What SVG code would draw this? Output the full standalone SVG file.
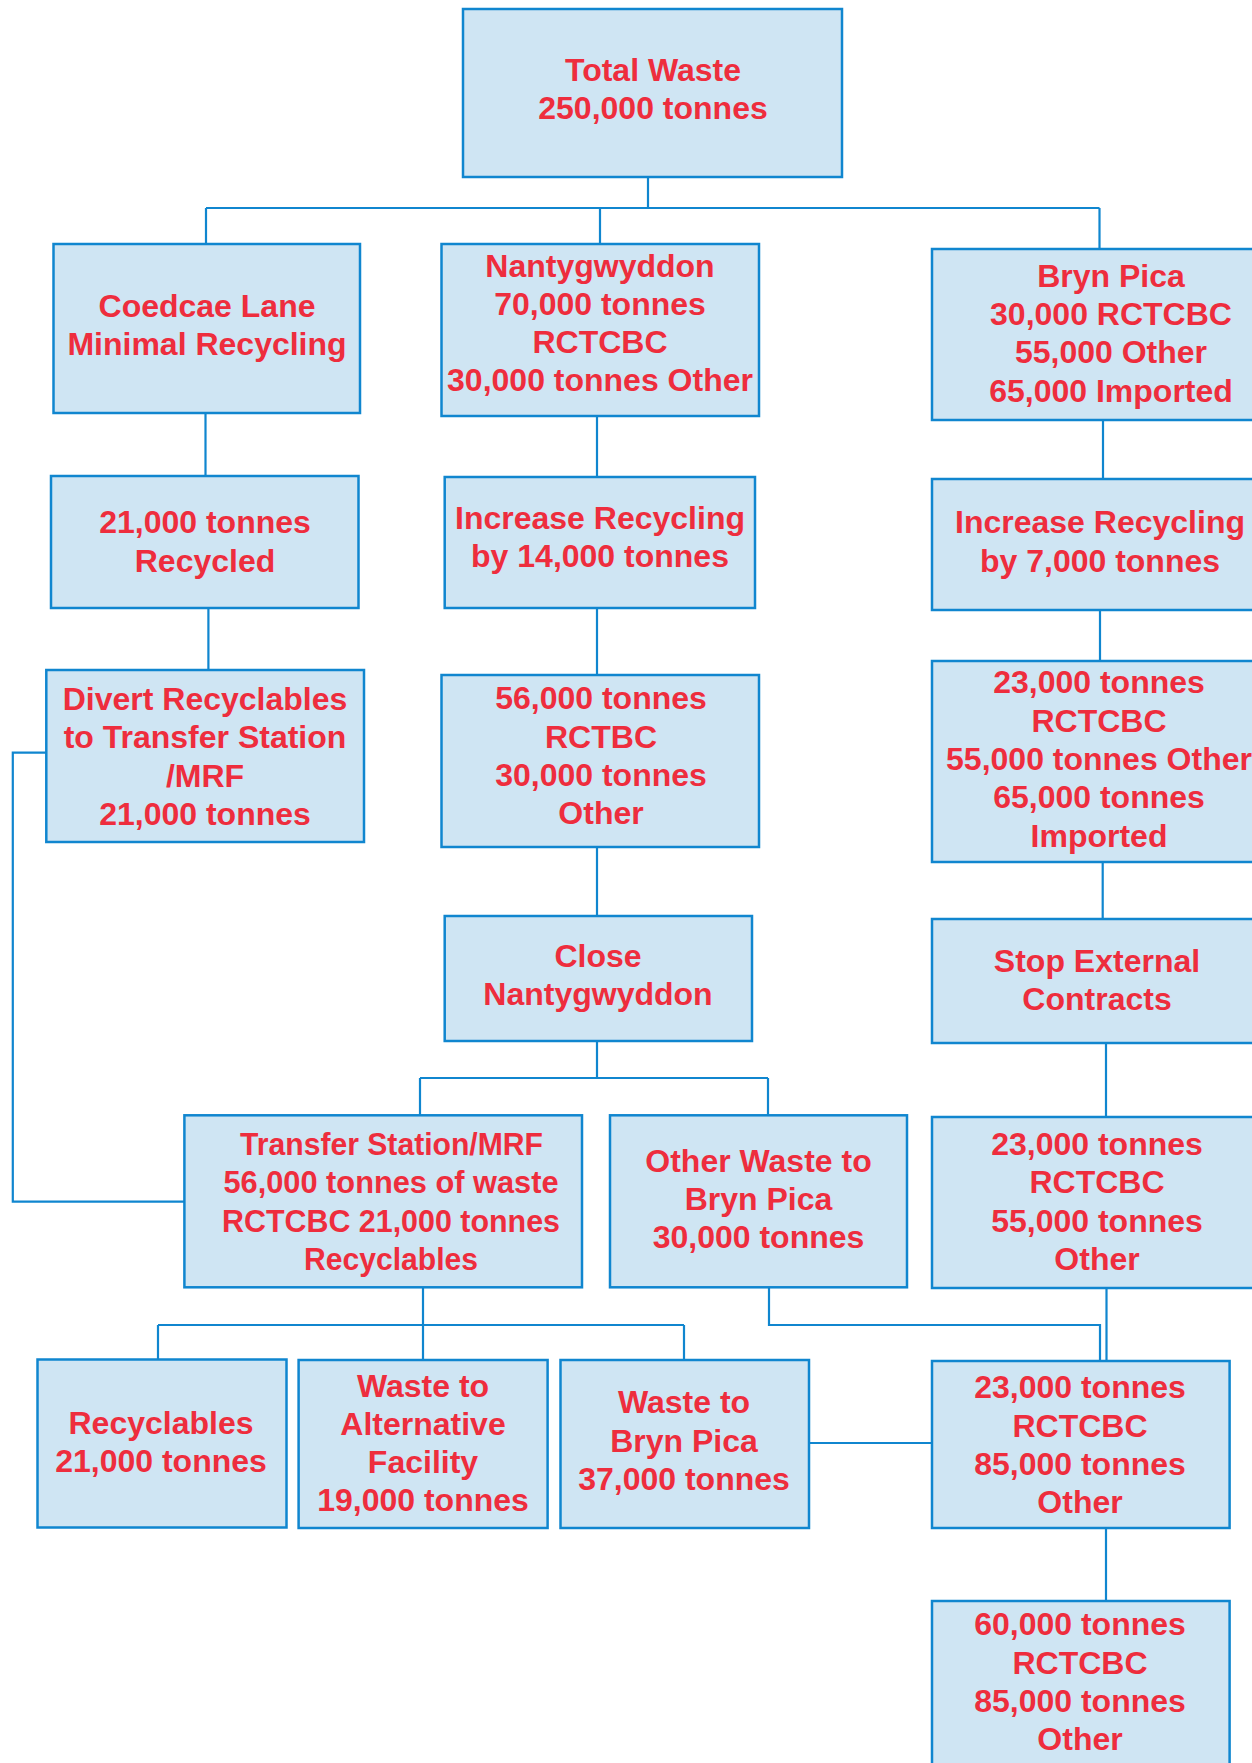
<svg xmlns="http://www.w3.org/2000/svg" width="1252" height="1763" viewBox="0 0 1252 1763">
<style>
.box{fill:#cfe5f3;stroke:#1086cf;stroke-width:2.5}
.t{font-family:"Liberation Sans",Arial,sans-serif;font-weight:bold;font-size:32px;fill:#ee2d3d;text-anchor:middle}
.c{fill:none;stroke:#1086cf;stroke-width:2.2}
</style>
<rect width="1252" height="1763" fill="#ffffff"/>
<g id="connectors">
<path class="c" d="M648,177 V208 M206,208 H1099.5 M206,208 V244 M600,208 V244 M1099.5,208 V249"/>
<path class="c" d="M205.5,413 V476 M208.4,608 V670"/>
<path class="c" d="M46,752.7 H12.8 V1201.7 H184"/>
<path class="c" d="M597,416 V477 M597,608 V675 M597,847 V916"/>
<path class="c" d="M597,1041 V1078 M420,1078 H768 M420,1078 V1115 M768,1078 V1115"/>
<path class="c" d="M1103,420 V479 M1100,610 V661 M1102.7,862 V919 M1106,1043 V1117 M1106.5,1288 V1361"/>
<path class="c" d="M423,1287 V1325 M158,1325 H684 M158,1325 V1360 M423,1325 V1360 M684,1325 V1360"/>
<path class="c" d="M769,1287 V1325 H1100 V1361"/>
<path class="c" d="M809,1443 H932"/>
<path class="c" d="M1106,1528 V1601"/>
</g>
<g id="total-waste">
<rect class="box" x="463" y="9" width="379" height="168"/>
<text class="t"><tspan x="653" y="81">Total Waste</tspan><tspan x="653" y="119">250,000 tonnes</tspan></text>
</g>
<g id="coedcae">
<rect class="box" x="53.5" y="244" width="306.5" height="169"/>
<text class="t"><tspan x="207" y="317">Coedcae Lane</tspan><tspan x="207" y="355">Minimal Recycling</tspan></text>
</g>
<g id="nantygwyddon">
<rect class="box" x="441.5" y="244" width="317.5" height="172"/>
<text class="t"><tspan x="600" y="277">Nantygwyddon</tspan><tspan x="600" y="315">70,000 tonnes</tspan><tspan x="600" y="353">RCTCBC</tspan><tspan x="600" y="391">30,000 tonnes Other</tspan></text>
</g>
<g id="bryn-pica">
<rect class="box" x="932" y="249" width="358" height="171"/>
<text class="t"><tspan x="1111" y="287">Bryn Pica</tspan><tspan x="1111" y="325">30,000 RCTCBC</tspan><tspan x="1111" y="363">55,000 Other</tspan><tspan x="1111" y="402">65,000 Imported</tspan></text>
</g>
<g id="recycled-21000">
<rect class="box" x="51" y="476" width="307.5" height="132"/>
<text class="t"><tspan x="205" y="533">21,000 tonnes</tspan><tspan x="205" y="572">Recycled</tspan></text>
</g>
<g id="increase-14000">
<rect class="box" x="444.7" y="477" width="310.3" height="131"/>
<text class="t"><tspan x="600" y="529">Increase Recycling</tspan><tspan x="600" y="567">by 14,000 tonnes</tspan></text>
</g>
<g id="increase-7000">
<rect class="box" x="932" y="479" width="336" height="131"/>
<text class="t"><tspan x="1100" y="533">Increase Recycling</tspan><tspan x="1100" y="572">by 7,000 tonnes</tspan></text>
</g>
<g id="divert">
<rect class="box" x="46.3" y="670" width="317.7" height="172"/>
<text class="t"><tspan x="205" y="710">Divert Recyclables</tspan><tspan x="205" y="748">to Transfer Station</tspan><tspan x="205" y="787">/MRF</tspan><tspan x="205" y="825">21,000 tonnes</tspan></text>
</g>
<g id="rctbc-56000">
<rect class="box" x="441.5" y="675" width="317.5" height="172"/>
<text class="t"><tspan x="601" y="709">56,000 tonnes</tspan><tspan x="601" y="748">RCTBC</tspan><tspan x="601" y="786">30,000 tonnes</tspan><tspan x="601" y="824">Other</tspan></text>
</g>
<g id="rctcbc-23000-imported">
<rect class="box" x="932" y="661" width="334" height="201"/>
<text class="t"><tspan x="1099" y="693">23,000 tonnes</tspan><tspan x="1099" y="732">RCTCBC</tspan><tspan x="1099" y="770">55,000 tonnes Other</tspan><tspan x="1099" y="808">65,000 tonnes</tspan><tspan x="1099" y="847">Imported</tspan></text>
</g>
<g id="close-nantygwyddon">
<rect class="box" x="444.7" y="916" width="307.3" height="125"/>
<text class="t"><tspan x="598" y="967">Close</tspan><tspan x="598" y="1005">Nantygwyddon</tspan></text>
</g>
<g id="stop-external">
<rect class="box" x="932" y="919" width="330" height="124"/>
<text class="t"><tspan x="1097" y="972">Stop External</tspan><tspan x="1097" y="1010">Contracts</tspan></text>
</g>
<g id="transfer-station">
<rect class="box" x="184.4" y="1115.3" width="397.6" height="172"/>
<text class="t"><tspan x="391.5" y="1155" textLength="303" lengthAdjust="spacingAndGlyphs">Transfer Station/MRF</tspan><tspan x="391" y="1193" textLength="335" lengthAdjust="spacingAndGlyphs">56,000 tonnes of waste</tspan><tspan x="391" y="1232" textLength="338" lengthAdjust="spacingAndGlyphs">RCTCBC 21,000 tonnes</tspan><tspan x="391" y="1270" textLength="174" lengthAdjust="spacingAndGlyphs">Recyclables</tspan></text>
</g>
<g id="other-waste">
<rect class="box" x="610" y="1115.3" width="297" height="172"/>
<text class="t"><tspan x="758.5" y="1172">Other Waste to</tspan><tspan x="758.5" y="1210">Bryn Pica</tspan><tspan x="758.5" y="1248">30,000 tonnes</tspan></text>
</g>
<g id="rctcbc-23000-55000">
<rect class="box" x="932" y="1117" width="330" height="171"/>
<text class="t"><tspan x="1097" y="1155">23,000 tonnes</tspan><tspan x="1097" y="1193">RCTCBC</tspan><tspan x="1097" y="1232">55,000 tonnes</tspan><tspan x="1097" y="1270">Other</tspan></text>
</g>
<g id="recyclables">
<rect class="box" x="37.5" y="1359.5" width="249" height="168"/>
<text class="t"><tspan x="161" y="1434">Recyclables</tspan><tspan x="161" y="1472">21,000 tonnes</tspan></text>
</g>
<g id="alternative-facility">
<rect class="box" x="298.6" y="1360" width="249" height="168"/>
<text class="t"><tspan x="423" y="1397">Waste to</tspan><tspan x="423" y="1435">Alternative</tspan><tspan x="423" y="1473">Facility</tspan><tspan x="423" y="1511">19,000 tonnes</tspan></text>
</g>
<g id="waste-bryn-pica">
<rect class="box" x="560.5" y="1360" width="248.5" height="168"/>
<text class="t"><tspan x="684" y="1413">Waste to</tspan><tspan x="684" y="1452">Bryn Pica</tspan><tspan x="684" y="1490">37,000 tonnes</tspan></text>
</g>
<g id="rctcbc-23000-85000">
<rect class="box" x="932" y="1361" width="297.6" height="167"/>
<text class="t"><tspan x="1080" y="1398">23,000 tonnes</tspan><tspan x="1080" y="1437">RCTCBC</tspan><tspan x="1080" y="1475">85,000 tonnes</tspan><tspan x="1080" y="1513">Other</tspan></text>
</g>
<g id="rctcbc-60000-85000">
<rect class="box" x="932" y="1601" width="297.6" height="180"/>
<text class="t"><tspan x="1080" y="1635">60,000 tonnes</tspan><tspan x="1080" y="1674">RCTCBC</tspan><tspan x="1080" y="1712">85,000 tonnes</tspan><tspan x="1080" y="1750">Other</tspan></text>
</g>
</svg>
